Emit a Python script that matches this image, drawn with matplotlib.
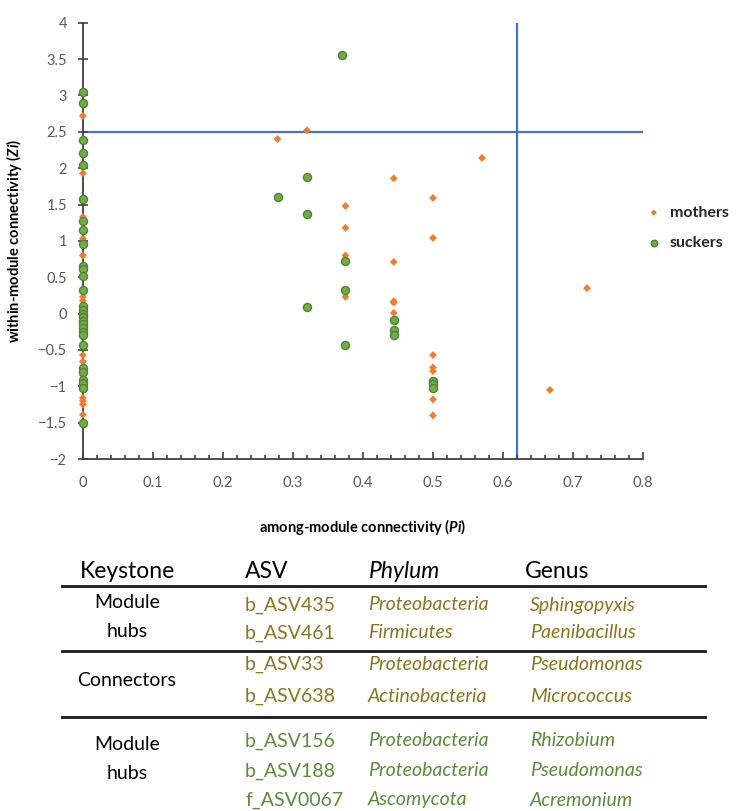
import numpy as np
import matplotlib.pyplot as plt
from matplotlib.ticker import MultipleLocator

plt.rcParams['font.family'] = ['Lato', 'DejaVu Sans']
plt.rcParams['mathtext.fontset'] = 'custom'
plt.rcParams['mathtext.bfit'] = 'Lato:bold:italic'

# within/among-module connectivity, mothers
mothers_pi = [0, 0, 0, 0, 0, 0, 0, 0, 0, 0, 0, 0, 0, 0, 0, 0,
              0.278, 0.32, 0.375, 0.375, 0.375, 0.375, 0.444, 0.444, 0.444,
              0.444, 0.444, 0.5, 0.5, 0.5, 0.5, 0.5, 0.5, 0.5, 0.57, 0.667, 0.72]
mothers_zi = [2.72, 1.93, 1.33, 1.03, 0.8, 0.23, 0.18, -0.57, -0.66, -0.85,
              -1.16, -1.2, -1.25, -1.39, 0.0, -0.45,
              2.4, 2.52, 1.48, 1.18, 0.8, 0.23, 1.86, 0.71, 0.17,
              0.15, 0.01, -0.57, 1.59, 1.04, -0.74, -0.79, -1.18, -1.4, 2.14, -1.05, 0.35]

# suckers
suckers_pi = [0, 0, 0, 0, 0, 0, 0, 0, 0, 0, 0, 0, 0, 0, 0, 0, 0, 0, 0, 0, 0,
              0, 0, 0, 0, 0, 0, 0, 0,
              0.278, 0.32, 0.32, 0.32, 0.37, 0.375, 0.375, 0.375,
              0.444, 0.444, 0.444, 0.5, 0.5, 0.5]
suckers_zi = [3.05, 2.89, 2.39, 2.21, 2.04, 1.57, 1.28, 1.15, 0.96, 0.66, 0.62,
              0.51, 0.32, 0.1, 0.05, 0.0, -0.05, -0.1, -0.15, -0.2, -0.25, -0.3,
              -0.43, -0.75, -0.8, -0.91, -0.96, -1.02, -1.5,
              1.6, 1.88, 1.37, 0.09, 3.55, 0.73, 0.33, -0.43,
              -0.09, -0.22, -0.3, -0.93, -0.97, -1.02]

zi_cut = 2.5
pi_cut = 0.62

x_ticks = [0, 0.1, 0.2, 0.3, 0.4, 0.5, 0.6, 0.7, 0.8]
x_labels = ['0', '0.1', '0.2', '0.3', '0.4', '0.5', '0.6', '0.7', '0.8']
y_ticks = [-2, -1.5, -1, -0.5, 0, 0.5, 1, 1.5, 2, 2.5, 3, 3.5, 4]
y_labels = ['\u22122', '\u22121.5', '\u22121', '\u22120.5', '0', '0.5',
            '1', '1.5', '2', '2.5', '3', '3.5', '4']

# keystone table
kinds = ['Module\nhubs', 'Connectors', 'Module\nhubs']
asv = ['b_ASV435', 'b_ASV461', 'b_ASV33', 'b_ASV638', 'b_ASV156', 'b_ASV188', 'f_ASV0067']
phylum = ['Proteobacteria', 'Firmicutes', 'Proteobacteria', 'Actinobacteria',
          'Proteobacteria', 'Proteobacteria', 'Ascomycota']
genus = ['Sphingopyxis', 'Paenibacillus', 'Pseudomonas', 'Micrococcus',
         'Rhizobium', 'Pseudomonas', 'Acremonium']
group = [0, 0, 1, 1, 2, 2, 2]

orange = '#ED7D31'
green = '#70AD47'
blue = '#4472C4'
gray = '#595959'
gold = '#8C7520'
dgreen = '#5B8C3A'

fig = plt.figure(figsize=(7.4, 8.11), dpi=100)
ax = fig.add_axes([0.112, 0.434, 0.757, 0.538])

ax.axhline(zi_cut, color=blue, lw=1.6, zorder=1)
ax.axvline(pi_cut, color=blue, lw=1.6, zorder=1)

ax.scatter(mothers_pi, mothers_zi, marker='D', s=16, color=orange,
           edgecolors='none', zorder=3, label='mothers', clip_on=False)
ax.scatter(suckers_pi, suckers_zi, marker='o', s=34, color=green,
           edgecolors='#548235', linewidths=1.0, zorder=3, label='suckers',
           clip_on=False)

ax.set_xlim(0, 0.8)
ax.set_ylim(-2, 4)
ax.set_xticks(x_ticks)
ax.set_xticklabels(x_labels)
ax.xaxis.set_minor_locator(MultipleLocator(0.02))
ax.set_yticks(y_ticks)
ax.set_yticklabels(y_labels)
ax.tick_params(axis='x', which='major', direction='in', length=5, width=1.2,
               color='#404040', labelcolor=gray, labelsize=10.5, pad=12)
ax.tick_params(axis='x', which='minor', direction='in', length=3, width=1.2,
               color='#404040')
ax.tick_params(axis='y', which='major', direction='inout', length=7, width=1.2,
               color='#404040', labelcolor=gray, labelsize=10.5, pad=8)
for s in ['top', 'right']:
    ax.spines[s].set_visible(False)
for s in ['left', 'bottom']:
    ax.spines[s].set_color('#404040')
    ax.spines[s].set_linewidth(1.3)

ax.set_xlabel('among-module connectivity ($\\mathbfit{Pi}$)', fontsize=10.5,
              fontweight='bold', labelpad=20)
ax.set_ylabel('within-module connectivity ($\\mathbfit{Zi}$)', fontsize=10.5,
              fontweight='bold', labelpad=10)

leg = ax.legend(loc='center left', bbox_to_anchor=(0.965, 0.53), frameon=False,
                fontsize=11.5, handletextpad=0.0, markerscale=0.8, labelspacing=1.0)
for t in leg.get_texts():
    t.set_fontweight('bold')
    t.set_color('#262626')

# table drawn in figure pixel coordinates
W, H = 740.0, 811.0


def fx(px):
    return px / W


def fy(py):
    return 1 - py / H


hdr_y = 571
fig.text(fx(127), fy(hdr_y), 'Keystone', ha='center', va='center', fontsize=16.5)
fig.text(fx(267), fy(hdr_y), 'ASV', ha='center', va='center', fontsize=16.5)
fig.text(fx(405), fy(hdr_y), 'Phylum', ha='center', va='center', fontsize=16.5,
         style='italic')
fig.text(fx(557), fy(hdr_y), 'Genus', ha='center', va='center', fontsize=16.5)

row_y = [605, 633, 664, 696, 741, 771, 800]
line_y = [586, 651, 717]
for ly in line_y:
    fig.add_artist(plt.Line2D([fx(62), fx(705)], [fy(ly), fy(ly)],
                              color='#1a1a1a', lw=2.0))

kind_y = [617, 680, 759]
for k, ky in zip(kinds, kind_y):
    fig.text(fx(127), fy(ky), k, ha='center', va='center', fontsize=14,
             linespacing=1.8)

for i in range(len(asv)):
    c = dgreen if group[i] == 2 else gold
    y = fy(row_y[i])
    fig.text(fx(245), y, asv[i], ha='left', va='center', fontsize=14, color=c)
    fig.text(fx(368), y, phylum[i], ha='left', va='center', fontsize=14,
             color=c, style='italic')
    fig.text(fx(530), y, genus[i], ha='left', va='center', fontsize=14,
             color=c, style='italic')

fig.savefig('out.png', dpi=100)
